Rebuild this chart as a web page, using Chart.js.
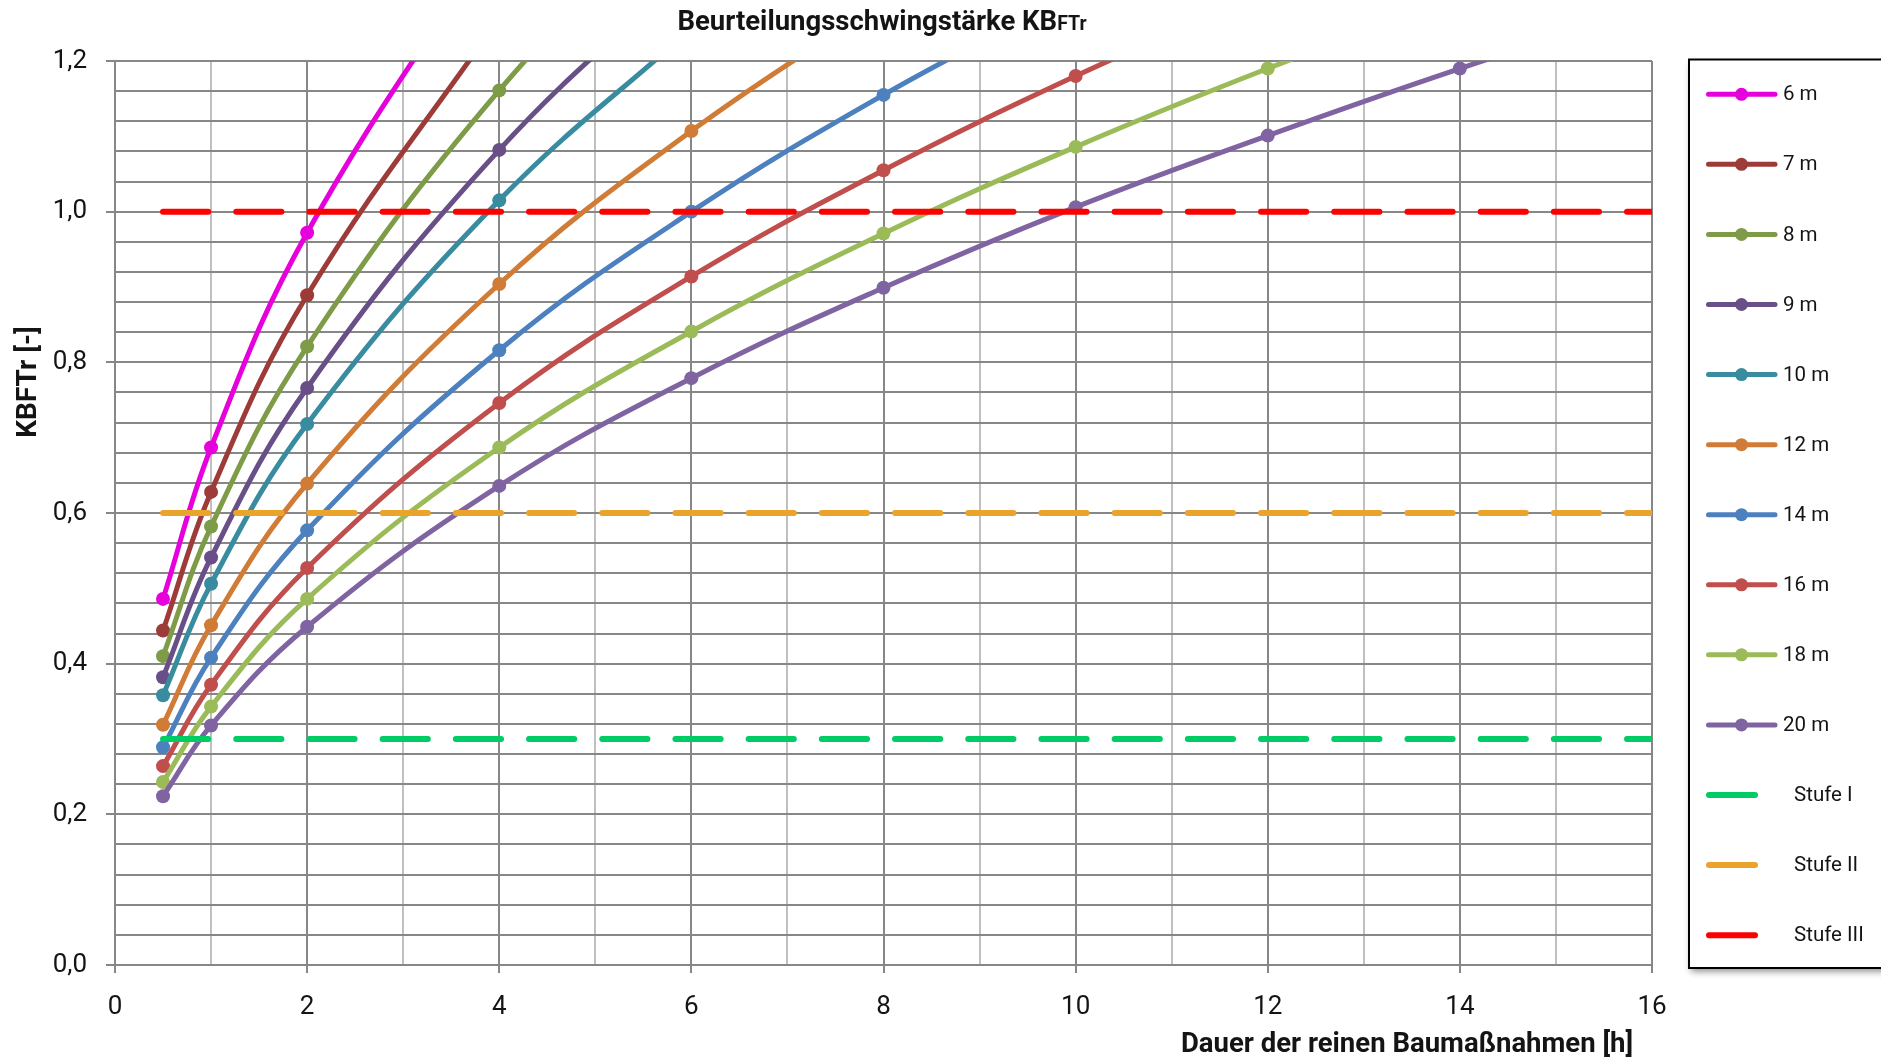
<!DOCTYPE html>
<html lang="de">
<head>
<meta charset="utf-8">
<title>Beurteilungsschwingstärke KBFTr</title>
<script src="https://cdn.jsdelivr.net/npm/chart.js@4.4.1/dist/chart.umd.min.js"></script>
<style>
  html, body { margin: 0; padding: 0; background: #ffffff; }
  #wrap { width: 1881px; height: 1058px; }
  canvas { display: block; }
</style>
</head>
<body>
<div id="wrap"><canvas id="chart" width="1881" height="1058"></canvas></div>
<script>
// Dauer der reinen Baumaßnahmen [h] at which each curve has a marker
const durations = [0.5, 1, 2, 4, 6, 8, 10, 12, 14, 16];

// KBFTr values per distance (the last value of each list lies above the visible range)
const kb6m  = [0.486, 0.687, 0.972, 1.375];
const kb7m  = [0.444, 0.628, 0.889, 1.257];
const kb8m  = [0.410, 0.582, 0.821, 1.161, 1.422];
const kb9m  = [0.382, 0.541, 0.766, 1.082, 1.325];
const kb10m = [0.358, 0.506, 0.718, 1.015, 1.243];
const kb12m = [0.319, 0.451, 0.639, 0.904, 1.107, 1.279];
const kb14m = [0.289, 0.408, 0.577, 0.816, 1.000, 1.155, 1.291];
const kb16m = [0.264, 0.372, 0.527, 0.746, 0.914, 1.055, 1.180, 1.293];
const kb18m = [0.243, 0.343, 0.486, 0.687, 0.841, 0.971, 1.086, 1.190, 1.285];
const kb20m = [0.224, 0.318, 0.449, 0.636, 0.779, 0.899, 1.006, 1.101, 1.190, 1.272];

const seriesLabels = ['6 m', '7 m', '8 m', '9 m', '10 m', '12 m', '14 m', '16 m', '18 m', '20 m'];
const seriesValues = [kb6m, kb7m, kb8m, kb9m, kb10m, kb12m, kb14m, kb16m, kb18m, kb20m];
const seriesColors = ['#E600DC', '#9C3B38', '#7E9B47', '#684F87', '#398CA0',
                      '#D07C36', '#4C80BE', '#C04E4C', '#9BBB59', '#8064A2'];

// Anhaltswerte (Stufen) as horizontal limits
const stufeLabels = ['Stufe I', 'Stufe II', 'Stufe III'];
const stufeValues = [0.3, 0.6, 1.0];
const stufeRange  = [0.5, 16];
const stufeColors = ['#00CC66', '#EAA32B', '#FF0000'];

// Axis ranges and ticks
const xMin = 0, xMax = 16, xStep = 1, xLabelEvery = 2;
const yMin = 0, yMax = 1.2, yStep = 0.04, yLabelEvery = 0.2;

const GRID_DARK = '#878787';
const GRID_LIGHT = '#C0C0C0';
const TEXT = '#141414';
const FONT = 'Roboto, "DejaVu Sans", sans-serif';

const datasets = [];
seriesValues.forEach((vals, i) => {
  datasets.push({
    label: seriesLabels[i],
    data: vals.map((v, k) => ({ x: durations[k], y: v })),
    borderColor: seriesColors[i],
    backgroundColor: seriesColors[i],
    borderWidth: 5,
    pointRadius: 7,
    pointBorderWidth: 0,
    pointHoverRadius: 7,
    tension: 0.4,
    fill: false,
    order: -i
  });
});
stufeValues.forEach((v, i) => {
  datasets.push({
    label: stufeLabels[i],
    data: stufeRange.map(x => ({ x: x, y: v })),
    borderColor: stufeColors[i],
    backgroundColor: stufeColors[i],
    borderWidth: 6,
    borderDash: [45.2, 28],
    borderCapStyle: 'round',
    pointRadius: 0,
    tension: 0,
    fill: false,
    order: -100 - i,
    isLimit: true
  });
});

function isMultiple(v, step) {
  const r = v / step;
  return Math.abs(r - Math.round(r)) < 1e-6;
}

// Draws a string, optionally squeezed to a given width
function drawText(ctx, text, x, y, font, align, targetWidth) {
  ctx.save();
  ctx.font = font;
  ctx.textBaseline = 'alphabetic';
  ctx.textAlign = 'left';
  const w = ctx.measureText(text).width;
  const sx = targetWidth ? targetWidth / w : 1;
  const width = w * sx;
  let left = x;
  if (align === 'center') left = x - width / 2;
  else if (align === 'right') left = x - width;
  ctx.translate(left, y);
  ctx.scale(sx, 1);
  ctx.fillText(text, 0, 0);
  ctx.restore();
  return width;
}

const decorations = {
  id: 'decorations',
  beforeDraw(chart) {
    const ctx = chart.ctx;
    ctx.save();
    ctx.fillStyle = '#ffffff';
    ctx.fillRect(0, 0, chart.width, chart.height);
    ctx.restore();
  },
  afterDraw(chart) {
    const ctx = chart.ctx;
    ctx.save();
    ctx.fillStyle = TEXT;

    // Title: "Beurteilungsschwingstärke KB" with a smaller "FTr"
    const mainFont = 'bold 27.5px ' + FONT;
    const subFont = 'bold 19.5px ' + FONT;
    ctx.font = mainFont;
    const wMain = ctx.measureText('Beurteilungsschwingstärke KB').width;
    ctx.font = subFont;
    const wSub = ctx.measureText('FTr').width;
    const startX = 882 - (wMain + wSub) / 2;
    drawText(ctx, 'Beurteilungsschwingstärke KB', startX, 30, mainFont, 'left');
    drawText(ctx, 'FTr', startX + wMain, 30, subFont, 'left');

    // Axis titles
    drawText(ctx, 'Dauer der reinen Baumaßnahmen [h]', 1407, 1052, 'bold 27.5px ' + FONT, 'center');
    ctx.save();
    ctx.translate(36, 382);
    ctx.rotate(-Math.PI / 2);
    drawText(ctx, 'KBFTr [-]', 0, 0, 'bold 28px ' + FONT, 'center');
    ctx.restore();

    // Legend box
    const bx = 1689, by = 59.5, bw = 240, bh = 908.5;
    ctx.save();
    ctx.shadowColor = 'rgba(0,0,0,0.45)';
    ctx.shadowBlur = 7;
    ctx.shadowOffsetX = 2;
    ctx.shadowOffsetY = 4;
    ctx.fillStyle = '#ffffff';
    ctx.fillRect(bx, by, bw, bh);
    ctx.restore();
    ctx.strokeStyle = '#000000';
    ctx.lineWidth = 2;
    ctx.strokeRect(bx, by, bw, bh);

    const legendFont = '20.5px ' + FONT;
    chart.data.datasets.forEach((ds, i) => {
      const y = 94.3 + i * 70.07;
      ctx.save();
      ctx.strokeStyle = ds.borderColor;
      ctx.lineCap = 'round';
      if (ds.isLimit) {
        ctx.lineWidth = 6;
        ctx.beginPath();
        ctx.moveTo(1709, y);
        ctx.lineTo(1755, y);
        ctx.stroke();
        ctx.fillStyle = TEXT;
        ctx.font = legendFont;
        ctx.textBaseline = 'middle';
        ctx.fillText(ds.label, 1794, y + 1);
      } else {
        ctx.lineWidth = 5;
        ctx.beginPath();
        ctx.moveTo(1708.5, y);
        ctx.lineTo(1775, y);
        ctx.stroke();
        ctx.fillStyle = ds.borderColor;
        ctx.beginPath();
        ctx.arc(1741.5, y, 6.5, 0, Math.PI * 2);
        ctx.fill();
        ctx.fillStyle = TEXT;
        ctx.font = legendFont;
        ctx.textBaseline = 'middle';
        ctx.fillText(ds.label, 1783, y + 1);
      }
      ctx.restore();
    });
    ctx.restore();
  }
};

new Chart(document.getElementById('chart'), {
  type: 'line',
  data: { datasets: datasets },
  options: {
    responsive: false,
    animation: false,
    events: [],
    layout: { padding: { left: 0, top: 61, right: 229, bottom: 0 } },
    elements: { line: { capBezierPoints: false } },
    plugins: {
      legend: { display: false },
      title: { display: false },
      tooltip: { enabled: false }
    },
    scales: {
      x: {
        type: 'linear',
        min: xMin, max: xMax,
        afterFit: s => { s.height = 93; },
        border: { color: GRID_DARK, width: 2 },
        grid: {
          lineWidth: 2,
          tickLength: 8,
          color: c => isMultiple(c.tick.value, xLabelEvery) ? GRID_DARK : GRID_LIGHT,
          tickColor: c => isMultiple(c.tick.value, xLabelEvery) ? GRID_DARK : 'rgba(0,0,0,0)'
        },
        ticks: {
          stepSize: xStep,
          autoSkip: false,
          maxRotation: 0,
          padding: 19,
          color: TEXT,
          font: { family: FONT, size: 26 },
          callback: v => isMultiple(v, xLabelEvery) ? String(Math.round(v)) : ''
        }
      },
      y: {
        type: 'linear',
        min: yMin, max: yMax,
        afterFit: s => { s.width = 115; },
        border: { color: GRID_DARK, width: 2 },
        grid: {
          lineWidth: 2,
          tickLength: 9,
          color: GRID_DARK,
          tickColor: c => isMultiple(c.tick.value, yLabelEvery) ? GRID_DARK : 'rgba(0,0,0,0)'
        },
        ticks: {
          stepSize: yStep,
          autoSkip: false,
          padding: 19,
          color: TEXT,
          font: { family: FONT, size: 26 },
          callback: v => isMultiple(v, yLabelEvery) ? v.toFixed(1).replace('.', ',') : ''
        }
      }
    }
  },
  plugins: [decorations]
});
</script>
</body>
</html>
